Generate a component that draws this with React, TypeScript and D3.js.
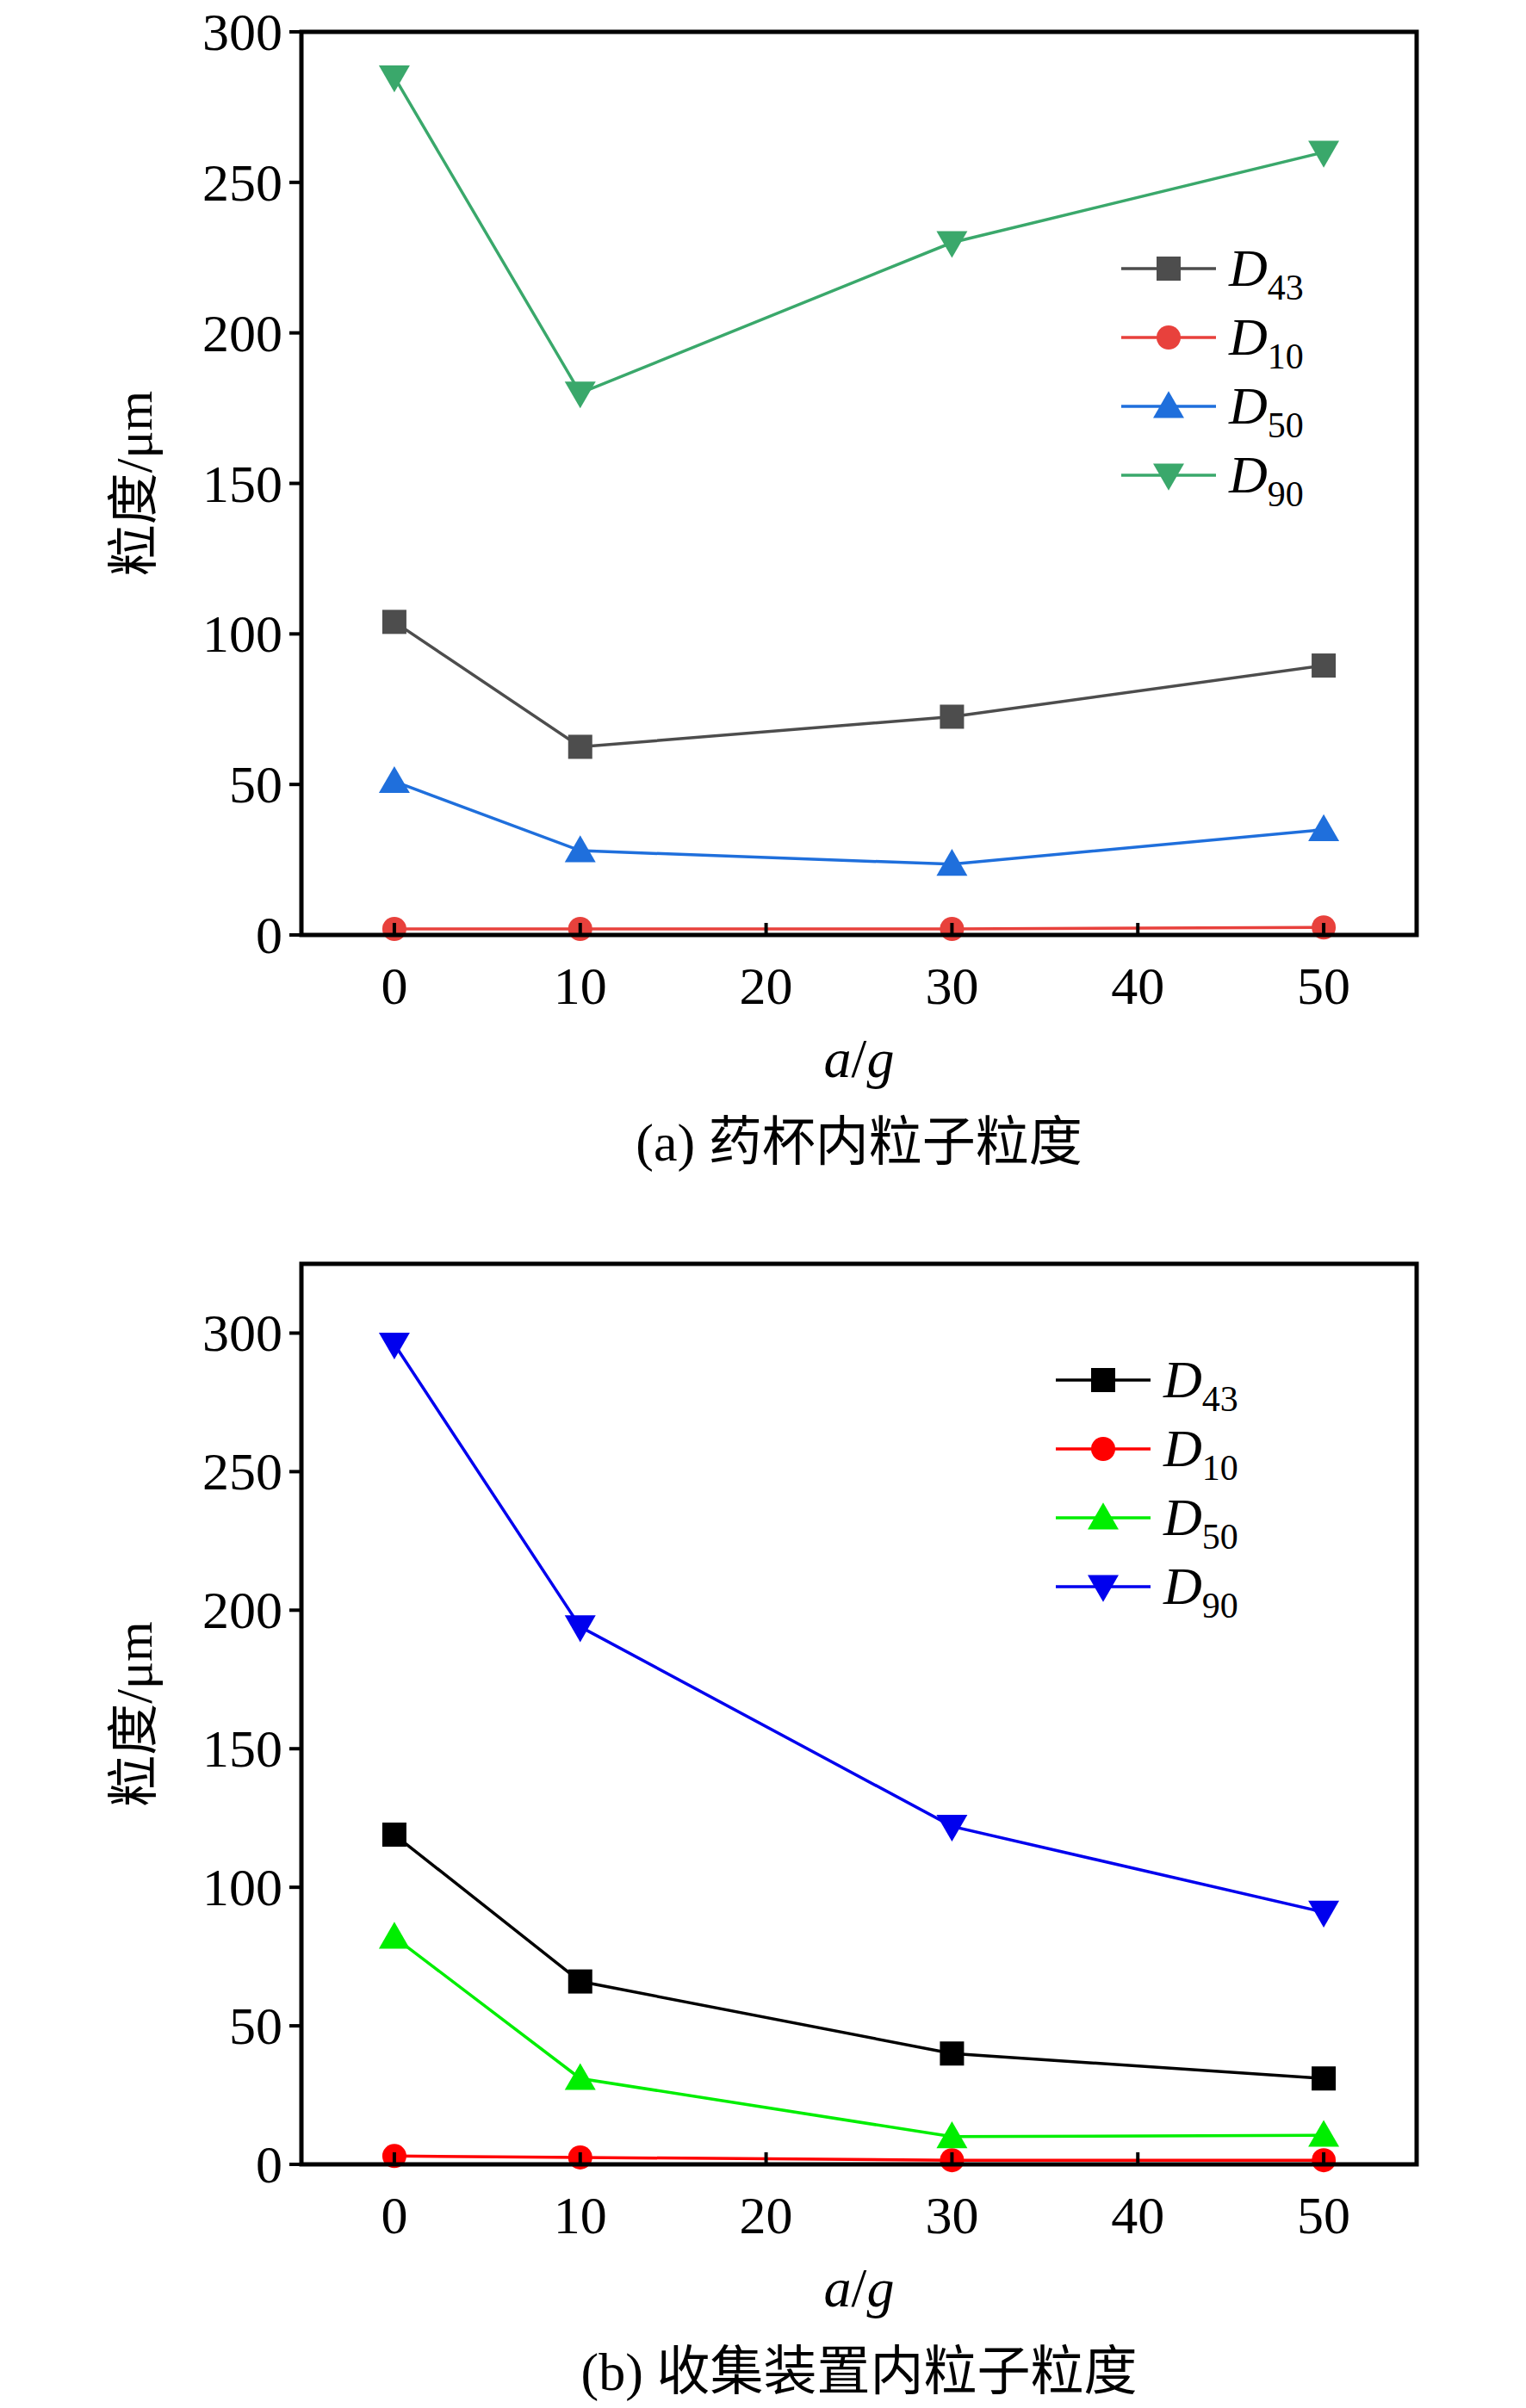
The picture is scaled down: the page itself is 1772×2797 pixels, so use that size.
import React from "react";
import * as d3 from "d3";

const xValues = [0, 10, 30, 50];
const xTicks = [0, 10, 20, 30, 40, 50];
const seriesNames = ["43", "10", "50", "90"];
const markers = ["square", "circle", "triangle", "triangleDown"];

// panel (a)
const aD43 = [104, 62.5, 72.5, 89.5];
const aD10 = [2, 2, 2, 2.5];
const aD50 = [51, 28, 23.5, 35];
const aD90 = [285, 180, 230, 260];
const aColors = ["#4d4d4d", "#e8413c", "#1f6fdc", "#3aa86b"];
const aTicks = [0, 50, 100, 150, 200, 250, 300];

// panel (b)
const bD43 = [119, 66, 40, 31];
const bD10 = [3, 2.5, 1.5, 1.5];
const bD50 = [82, 31, 10, 10.5];
const bD90 = [296, 194, 122, 91];
const bColors = ["#000000", "#ff0000", "#00ee00", "#0000ee"];
const bTicks = [0, 50, 100, 150, 200, 250, 300];

const font = "'Liberation Serif', 'Times New Roman', serif";
const cjk = "'Liberation Serif', 'Noto Sans CJK SC', serif";

const Marker: React.FC<{ type: string; x: number; y: number; color: string }> = ({ type, x, y, color }) => {
    const s = 14;
    if (type === "square") return <rect x={x - s} y={y - s} width={2 * s} height={2 * s} fill={color} />;
    if (type === "circle") return <circle cx={x} cy={y} r={s} fill={color} />;
    const sym = d3.symbol().type(d3.symbolTriangle).size(560)();
    return (
        <path d={sym as string} fill={color}
            transform={`translate(${x},${y + (type === "triangle" ? 3 : -3)}) rotate(${type === "triangle" ? 0 : 180})`} />
    );
};

const Panel: React.FC<any> = ({ top, bottom, yMax, ticks, data, colors, legendX, legendY, caption }) => {
    const left = 350, right = 1645;
    const x = d3.scaleLinear([-5, 55], [left, right]);
    const y = d3.scaleLinear([0, yMax], [bottom, top]);
    const line = d3.line<number>().x((_, i) => x(xValues[i])).y((d) => y(d));
    return (
        <g>
            {data.map((vals: number[], k: number) => (
                <g key={k}>
                    <path d={line(vals) as string} fill="none" stroke={colors[k]} strokeWidth={3.5} />
                    {vals.map((v, i) => <Marker key={i} type={markers[k]} x={x(xValues[i])} y={y(v)} color={colors[k]} />)}
                </g>
            ))}
            <rect x={left} y={top} width={right - left} height={bottom - top} fill="none" stroke="#000" strokeWidth={5} />
            {xTicks.map((t) => (
                <g key={t}>
                    <line x1={x(t)} x2={x(t)} y1={bottom} y2={bottom - 14} stroke="#000" strokeWidth={4} />
                    <text x={x(t)} y={bottom + 80} textAnchor="middle" fontSize={62} fontFamily={font}>{t}</text>
                </g>
            ))}
            {ticks.map((t: number) => (
                <g key={t}>
                    <line x1={left} x2={left - 14} y1={y(t)} y2={y(t)} stroke="#000" strokeWidth={4} />
                    <text x={left - 22} y={y(t) + 21} textAnchor="end" fontSize={62} fontFamily={font}>{t}</text>
                </g>
            ))}
            <text transform={`translate(176,${(top + bottom) / 2}) rotate(-90)`} textAnchor="middle" fontSize={60} fontFamily={cjk}>粒度/μm</text>
            <text x={(left + right) / 2} y={bottom + 165} textAnchor="middle" fontSize={64} fontFamily={font} fontStyle="italic">
                a<tspan fontStyle="normal">/</tspan>g
            </text>
            <text x={(left + right) / 2} y={bottom + 262} textAnchor="middle" fontSize={62} fontFamily={cjk}>{caption}</text>
            {seriesNames.map((n, k) => {
                const ly = legendY + k * 80;
                return (
                    <g key={n}>
                        <line x1={legendX} x2={legendX + 110} y1={ly} y2={ly} stroke={colors[k]} strokeWidth={3.5} />
                        <Marker type={markers[k]} x={legendX + 55} y={ly} color={colors[k]} />
                        <text x={legendX + 125} y={ly + 20} fontSize={62} fontFamily={font} fontStyle="italic">
                            D<tspan fontStyle="normal" fontSize={42} dy={16}>{n}</tspan>
                        </text>
                    </g>
                );
            })}
        </g>
    );
};

export default function App() {
    return (
        <svg width={1772} height={2797} style={{ position: "absolute", left: 0, top: 0, background: "#fff" }}>
            <rect width={1772} height={2797} fill="#fff" />
            <Panel top={37} bottom={1086} yMax={300} ticks={aTicks} data={[aD43, aD10, aD50, aD90]}
                colors={aColors} legendX={1302} legendY={312} caption="(a) 药杯内粒子粒度" />
            <Panel top={1468} bottom={2514} yMax={325} ticks={bTicks} data={[bD43, bD10, bD50, bD90]}
                colors={bColors} legendX={1226} legendY={1603} caption="(b) 收集装置内粒子粒度" />
        </svg>
    );
}
